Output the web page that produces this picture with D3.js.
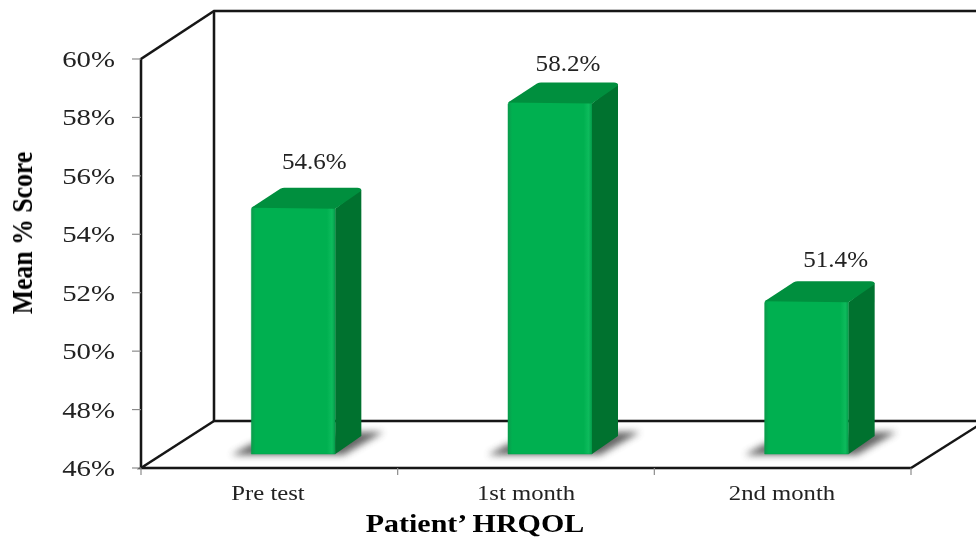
<!DOCTYPE html>
<html><head><meta charset="utf-8">
<script src="https://cdn.jsdelivr.net/npm/d3@7"></script>
<style>html,body{margin:0;background:#fff}svg{display:block}</style></head>
<body><div id="c"></div>
<script>
const categories = ["Pre test", "1st month", "2nd month"];
const values = [54.6, 58.2, 51.4];
const valueLabels = ["54.6%", "58.2%", "51.4%"];
const yTicks = [46, 48, 50, 52, 54, 56, 58, 60];
const xTitle = "Patient’ HRQOL";
const yTitle = "Mean % Score";

const W = 976, H = 538;
const x0 = 141, x1 = 911, yB = 468, yT = 59;
const depthX = 73, depthY = 47;
const barW = 84, bdx = 26, bdy = 18, barBase = 454, lift = 10;
const labelDx = [21, 18, 29], labelDy = [38, 31, 33];

const svg = d3.select("#c").append("svg").attr("width", W).attr("height", H);
const y = d3.scaleLinear().domain([46, 60]).range([yB, yT]);
const x = d3.scaleBand().domain(categories).range([x0, x1]);

const defs = svg.append("defs");
const blurF = defs.append("filter").attr("id", "blur").attr("filterUnits", "userSpaceOnUse")
  .attr("x", 0).attr("y", 380).attr("width", W).attr("height", 110);
blurF.append("feGaussianBlur").attr("stdDeviation", 3.6);
defs.append("filter").attr("id", "soft").attr("filterUnits", "userSpaceOnUse")
  .attr("x", 0).attr("y", 0).attr("width", W).attr("height", H)
  .append("feGaussianBlur").attr("stdDeviation", 0.45);
const fg = defs.append("linearGradient").attr("id", "front");
[[0, "#0c9a4c"], [0.05, "#00b050"], [0.9, "#00b050"], [0.96, "#0dbb5c"], [1, "#059a4a"]].forEach(d =>
  fg.append("stop").attr("offset", d[0]).attr("stop-color", d[1]));

const stretch = (sel, ratio) => sel.each(function () {
  d3.select(this).attr("textLength", this.getComputedTextLength() * ratio).attr("lengthAdjust", "spacingAndGlyphs");
});
const pts = a => a.map(p => p.join(",")).join(" ");

const frame = svg.append("g").attr("fill", "none").attr("stroke", "#161616").attr("stroke-width", 2.5).attr("filter", "url(#soft)");
frame.append("polyline").attr("points", pts([[x0, yB], [x0, yT], [x0 + depthX, yT - depthY - 1], [W, yT - depthY - 1]]));
frame.append("polyline").attr("points", pts([[x0 + depthX, yT - depthY - 1], [x0 + depthX, yB - depthY], [W, yB - depthY]]));
frame.append("polyline").attr("points", pts([[x0 + depthX, yB - depthY], [x0, yB], [x1, yB], [x1 + 68, yB - 43]]));

const axisG = svg.append("g").attr("stroke", "#8c8c8c").attr("stroke-width", 1.2);
axisG.selectAll(".yt").data(yTicks).join("line")
  .attr("x1", x0 - 9).attr("x2", x0).attr("y1", d => y(d)).attr("y2", d => y(d));
const xEdges = categories.map(c => x(c)).concat([x1]);
axisG.selectAll(".xt").data(xEdges).join("line")
  .attr("x1", d => d).attr("x2", d => d).attr("y1", yB).attr("y2", yB + 7);

const bars = svg.append("g").selectAll("g").data(categories).join("g");
const bx = c => x(c) + x.bandwidth() / 2 + 24 - barW / 2;
const topY = (c, i) => y(values[i]) - lift;

bars.append("polygon").attr("fill", "#555").attr("opacity", 0.9).attr("filter", "url(#blur)")
  .attr("points", c => { const l = bx(c); return pts([[l - 20, barBase + 1], [l, barBase - 10], [l + barW + bdx, barBase - 22], [l + barW + bdx + 22, barBase - 22], [l + barW + 8, barBase + 1]]); });
bars.append("path").attr("fill", "url(#front)").attr("stroke", "#00a048").attr("stroke-width", 0.5)
  .attr("d", (c, i) => { const l = bx(c), t = topY(c, i); return `M${l},${barBase}V${t + 3}Q${l},${t} ${l + 3},${t}H${l + barW - 3}Q${l + barW},${t} ${l + barW},${t + 3}V${barBase}Z`; });
bars.append("path").attr("fill", "#00722f")
  .attr("d", (c, i) => { const r = bx(c) + barW, t = topY(c, i); return `M${r},${barBase}V${t + 2}L${r + bdx - 1},${t - bdy}Q${r + bdx},${t - bdy} ${r + bdx},${t - bdy + 3}V${barBase - bdy}Z`; });
bars.append("path").attr("fill", "#008f3e")
  .attr("d", (c, i) => { const l = bx(c), t = topY(c, i); return `M${l},${t + 1}L${l + 29},${t - bdy}Q${l + 31},${t - bdy - 1} ${l + 33},${t - bdy - 1}H${l + barW + bdx - 4}Q${l + barW + bdx},${t - bdy - 1} ${l + barW + bdx},${t - bdy + 2}L${l + barW},${t + 2}Z`; });

const serif = "'Liberation Serif','Times New Roman',serif";
const texts = svg.append("g").attr("filter", "url(#soft)").attr("font-family", serif);
texts.append("g").selectAll("text").data(yTicks).join("text")
  .attr("x", 115).attr("y", d => y(d) + 8).attr("text-anchor", "end")
  .attr("font-size", 24).attr("fill", "#222")
  .text(d => d + "%").call(stretch, 1.2);

texts.append("g").selectAll("text").data(categories).join("text")
  .attr("x", (c, i) => [268, 526, 782][i]).attr("y", 500).attr("text-anchor", "middle")
  .attr("font-size", 20).attr("fill", "#222")
  .text(c => c).call(stretch, 1.235);

texts.append("g").selectAll("text").data(valueLabels).join("text")
  .attr("x", (d, i) => bx(categories[i]) + barW / 2 + labelDx[i])
  .attr("y", (d, i) => topY(categories[i], i) - labelDy[i])
  .attr("text-anchor", "middle").attr("font-size", 23).attr("fill", "#222")
  .text(d => d).call(stretch, 1.09);

texts.append("text").attr("x", 475).attr("y", 532).attr("text-anchor", "middle")
  .attr("font-size", 25).attr("font-weight", "bold").attr("fill", "#000")
  .text(xTitle).call(stretch, 1.2);

texts.append("text").attr("transform", "translate(32,233) scale(1.2,1.03) rotate(-90)").attr("text-anchor", "middle")
  .attr("font-size", 25).attr("font-weight", "bold").attr("fill", "#000")
  .text(yTitle);
</script></body></html>
